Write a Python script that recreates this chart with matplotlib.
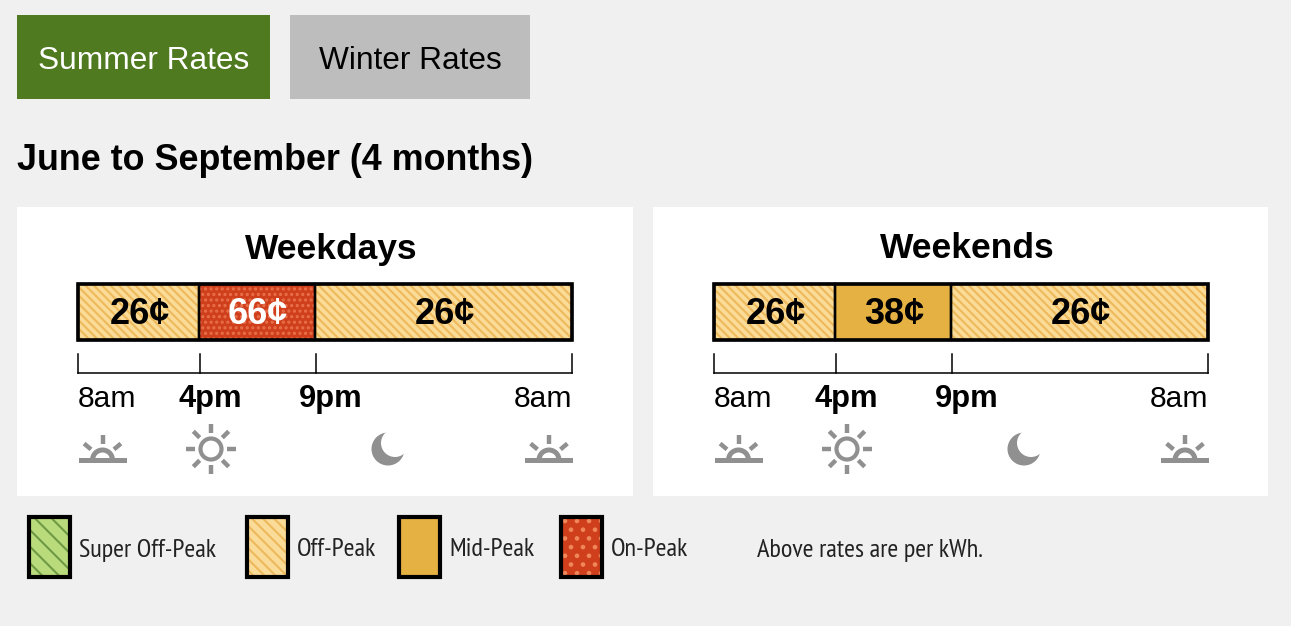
import matplotlib
matplotlib.use("Agg")
import matplotlib.pyplot as plt
from matplotlib.patches import Rectangle, Circle, Wedge
import numpy as np

plt.rcParams["font.family"] = ["Liberation Sans", "DejaVu Sans"]
plt.rcParams["hatch.linewidth"] = 1.5

NARROW = ["PT Sans Narrow", "Archivo Narrow", "Liberation Sans"]

# rates in cents per kWh
weekday_rates = [26, 66, 26]
weekend_rates = [26, 38, 26]
weekday_tiers = ["Off-Peak", "On-Peak", "Off-Peak"]
weekend_tiers = ["Off-Peak", "Mid-Peak", "Off-Peak"]
segment_widths = [121, 116, 257]
time_labels = ["8am", "4pm", "9pm", "8am"]
time_bold = [False, True, True, False]
legend_tiers = ["Super Off-Peak", "Off-Peak", "Mid-Peak", "On-Peak"]

BG = "#f0f0f0"
GRAY = "#909090"

# fill, hatch colour, hatch in the bars, hatch in the legend
tier_style = {
    "Super Off-Peak": ("#b9db7c", "#6f9a45", "\\\\", "\\\\"),
    "Off-Peak": ("#fadb97", "#eeb95c", "\\\\\\\\", "\\\\\\"),
    "Mid-Peak": ("#e4b142", None, None, None),
    "On-Peak": ("#cf3f1c", "#e8704a", "...", None),
}

fig = plt.figure(figsize=(12.91, 6.26), dpi=100, facecolor=BG)
ax = fig.add_axes([0, 0, 1, 1])
ax.set_xlim(0, 1291)
ax.set_ylim(626, 0)
ax.axis("off")


def sunrise(cx):
    ax.add_patch(Rectangle((cx - 24, 458), 48, 5, fc=GRAY, ec="none"))
    ax.add_patch(Wedge((cx, 460), 12.5, 180, 360, width=5, fc=GRAY, ec="none"))
    for a in (-50, 0, 50):
        t = np.radians(a)
        ax.plot([cx + 15 * np.sin(t), cx + 24 * np.sin(t)],
                [459 - 15 * np.cos(t), 459 - 24 * np.cos(t)],
                color=GRAY, lw=3.2, solid_capstyle="butt")


def sun(cx, cy):
    ax.add_patch(Circle((cx, cy), 10.5, fc="none", ec=GRAY, lw=3))
    for a in range(0, 360, 45):
        t = np.radians(a)
        ax.plot([cx + 16 * np.cos(t), cx + 25 * np.cos(t)],
                [cy + 16 * np.sin(t), cy + 25 * np.sin(t)],
                color=GRAY, lw=3.2, solid_capstyle="butt")


def moon(cx, cy):
    ax.add_patch(Circle((cx, cy), 16.5, fc=GRAY, ec="none", zorder=2))
    ax.add_patch(Circle((cx + 7, cy - 6), 14, fc="white", ec="none", zorder=3))


def panel(x0, x1, title, rates, tiers):
    left = x0 + 61
    ax.add_patch(Rectangle((x0, 207), x1 - x0, 289, fc="white", ec="none"))
    total = sum(segment_widths)
    ax.text(left + total / 2 + 6, 249, title, fontsize=25.5, fontweight="bold",
            ha="center", va="center")

    lefts = left + np.concatenate([[0], np.cumsum(segment_widths)[:-1]])
    for l, w, r, tier in zip(lefts, segment_widths, rates, tiers):
        fill, hcol, hatch, _ = tier_style[tier]
        ax.barh(312, w, left=l, height=56, color=fill, edgecolor=hcol or fill,
                hatch=hatch, linewidth=0, zorder=2)
        ax.barh(312, w, left=l, height=56, color="none", edgecolor="black",
                linewidth=1.7, zorder=3)
        col = "white" if tier == "On-Peak" else "black"
        ax.text(l + w / 2 + 1, 315, f"{r}\u00a2", fontsize=26, fontweight="bold",
                color=col, ha="center", va="center", zorder=4)
    # heavier outline round the whole bar
    ax.barh(312, total, left=left, height=56, color="none", edgecolor="black",
            linewidth=2.6, zorder=3)

    # time bracket under the bar
    edges = np.concatenate([[left], left + np.cumsum(segment_widths)])
    ax.plot([edges[0], edges[-1]], [373, 373], color="black", lw=1.1)
    for i, e in enumerate(edges):
        tick = e + 1 if i in (1, 2) else e
        ax.plot([tick, tick], [354, 373], color="black", lw=1.1)

    ha_list = ["left", "center", "center", "right"]
    offs = [0, 11, 16, 0]
    for e, lab, bold, ha, o in zip(edges, time_labels, time_bold, ha_list, offs):
        ax.text(e + o, 399, lab, fontsize=22.2 if bold else 21.6, ha=ha, va="center",
                fontweight="bold" if bold else "normal")

    sunrise(left + 24.5)
    sun(left + 133, 449)
    moon(left + 310, 449)
    sunrise(left + 471)


def swatch_dots(sx, color):
    # staggered dot screen of the on-peak swatch
    for row, y in enumerate(np.arange(521, 576, 8.7)):
        shift = 6 if row % 2 else 0
        for x in np.arange(sx + 4 + shift, sx + 41, 12):
            ax.add_patch(Circle((x, y), 2.3, fc=color, ec="none", zorder=2))


# tab buttons
ax.add_patch(Rectangle((17, 15), 253, 84, fc="#4f7a1f", ec="none"))
ax.text(143.5, 61, "Summer Rates", color="white", fontsize=22.8, ha="center", va="center")
ax.add_patch(Rectangle((290, 15), 240, 84, fc="#bdbdbd", ec="none"))
ax.text(410, 61, "Winter Rates", color="black", fontsize=22.8, ha="center", va="center")

ax.text(17, 161, "June to September (4 months)", fontsize=25.8, fontweight="bold",
        ha="left", va="center")

panel(17, 633, "Weekdays", weekday_rates, weekday_tiers)
panel(653, 1268, "Weekends", weekend_rates, weekend_tiers)

# legend
swatch_x = [29, 247, 399, 561]
for sx, tier in zip(swatch_x, legend_tiers):
    fill, hcol, _, hatch = tier_style[tier]
    ax.add_patch(Rectangle((sx, 517), 41, 60, fc=fill, ec=hcol or fill, hatch=hatch, lw=0))
    if tier == "On-Peak":
        swatch_dots(sx, "#f0875a")
    ax.add_patch(Rectangle((sx, 517), 41, 60, fc="none", ec="black", lw=3, zorder=3))
    ax.text(sx + 50, 550, tier, family=NARROW, fontsize=19, color="#222222",
            ha="left", va="center")
ax.text(757, 550, "Above rates are per kWh.", family=NARROW, fontsize=19, color="#222222",
        ha="left", va="center")

fig.savefig("out.png", dpi=100, facecolor=BG)
